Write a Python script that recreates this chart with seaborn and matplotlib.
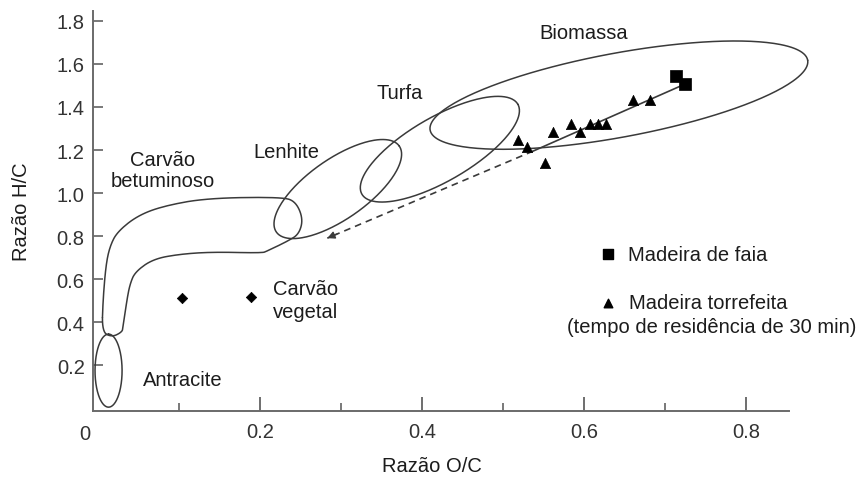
import numpy as np
import pandas as pd
import matplotlib
matplotlib.use("Agg")
import matplotlib.pyplot as plt
import seaborn as sns
from matplotlib.transforms import blended_transform_factory

# ---------------- data ----------------
beech_oc = [0.714, 0.725]
beech_hc = [1.544, 1.507]

torr_oc = [0.519, 0.530, 0.552, 0.562, 0.584, 0.595, 0.607, 0.617, 0.627, 0.660, 0.681]
torr_hc = [1.247, 1.215, 1.138, 1.285, 1.320, 1.282, 1.320, 1.320, 1.320, 1.434, 1.434]

charcoal_oc = [0.104, 0.189]
charcoal_hc = [0.512, 0.519]

trend_oc = [0.725, 0.537]
trend_hc = [1.507, 1.195]
trend_dash_oc = [0.537, 0.283]
trend_dash_hc = [1.195, 0.791]

# elliptic regions: centre (O/C, H/C), semi-axes (in O/C units), tilt (deg)
region_names = ["Antracite", "Lenhite", "Turfa", "Biomassa"]
region_cx = [0.013, 0.296, 0.422, 0.643]
region_cy = [0.176, 1.019, 1.204, 1.455]
region_a = [0.0451, 0.0926, 0.1111, 0.2370]
region_b = [0.0167, 0.0370, 0.0395, 0.0519]
region_ang = [90, 35, 30, 10.5]

# bituminous coal band outline
bit_oc = [0.0049, 0.0062, 0.0099, 0.0148, 0.0235, 0.0481, 0.0802, 0.1346, 0.2284,
          0.2444, 0.2531, 0.2481, 0.2346, 0.2086, 0.2025, 0.1420, 0.1012, 0.0679,
          0.0457, 0.0395, 0.0358, 0.0309, 0.0296, 0.0173]
bit_hc = [0.355, 0.508, 0.671, 0.754, 0.819, 0.894, 0.940, 0.977, 0.982,
          0.959, 0.880, 0.810, 0.778, 0.731, 0.722, 0.727, 0.717, 0.694,
          0.634, 0.578, 0.508, 0.378, 0.355, 0.332]

xticks_major = [0.2, 0.4, 0.6, 0.8]
xticks_minor = [0.1, 0.3, 0.5, 0.7]
yticks = [0.2, 0.4, 0.6, 0.8, 1.0, 1.2, 1.4, 1.6, 1.8]

# ---------------- style ----------------
sns.set_style("ticks")
plt.rcParams["font.family"] = ["Liberation Sans", "DejaVu Sans"]
TXT = "#1c1c1c"
LINE = "#3a3a3a"
FS = 14.5

W, H = 865, 481
fig = plt.figure(figsize=(W / 100, H / 100), dpi=100)
ax = fig.add_axes([93 / W, 1 - 411.7 / H, (789 - 93) / W, (411.7 - 11.7) / H])
ax.set_xlim(-0.0062, 0.853)
ax.set_ylim(-0.010, 1.847)

ASPECT = 810 / 215.4  # display px per O/C unit vs per H/C unit


def ellipse(cx, cy, a, b, ang):
    t = np.linspace(0, 2 * np.pi, 300)
    u, v = a * np.cos(t), b * np.sin(t)
    th = np.radians(ang)
    dx = u * np.cos(th) - v * np.sin(th)
    dy = u * np.sin(th) + v * np.cos(th)
    return cx + dx, cy + dy * ASPECT


def chaikin(x, y, n=3):
    pts = np.column_stack([x, y])
    for _ in range(n):
        nxt = np.roll(pts, -1, axis=0)
        q = 0.75 * pts + 0.25 * nxt
        r = 0.25 * pts + 0.75 * nxt
        pts = np.empty((2 * len(q), 2))
        pts[0::2] = q
        pts[1::2] = r
    pts = np.vstack([pts, pts[:1]])
    return pts[:, 0], pts[:, 1]


for cx, cy, a, b, ang in zip(region_cx, region_cy, region_a, region_b, region_ang):
    ex, ey = ellipse(cx, cy, a, b, ang)
    ax.plot(ex, ey, color=LINE, lw=1.1, zorder=2, clip_on=False)

bx, by = chaikin(bit_oc, bit_hc)
ax.plot(bx, by, color=LINE, lw=1.1, zorder=2, clip_on=False)

# trend line (solid part + dashed extrapolation with arrow)
sns.lineplot(x=trend_oc, y=trend_hc, sort=False, color=LINE, lw=1.2, ax=ax,
             estimator=None, zorder=3)
ax.plot(trend_dash_oc, trend_dash_hc, color=LINE, lw=1.2, ls=(0, (4, 3)), zorder=3)
ax.annotate("", xy=(trend_dash_oc[1], trend_dash_hc[1]),
            xytext=(trend_dash_oc[1] + 0.012, trend_dash_hc[1] + 0.012 * 1.62),
            arrowprops=dict(arrowstyle="-|>", color=LINE, lw=1.0, mutation_scale=11,
                            shrinkA=0, shrinkB=0), zorder=4)

# points
sns.scatterplot(x=torr_oc, y=torr_hc, marker="^", s=55, color="black",
                edgecolor="black", linewidth=0.5, ax=ax, zorder=5)
sns.scatterplot(x=beech_oc, y=beech_hc, marker="s", s=70, color="black",
                edgecolor="black", linewidth=0.5, ax=ax, zorder=5)
sns.scatterplot(x=charcoal_oc, y=charcoal_hc, marker="D", s=28, color="black",
                edgecolor="black", linewidth=0.5, ax=ax, zorder=5)

# region labels
ax.text(0.599, 1.748, "Biomassa", fontsize=FS, color=TXT, ha="center", va="center")
ax.text(0.373, 1.469, "Turfa", fontsize=FS, color=TXT, ha="center", va="center")
ax.text(0.233, 1.195, "Lenhite", fontsize=FS, color=TXT, ha="center", va="center")
ax.text(0.080, 1.106, "Carvão\nbetuminoso", fontsize=FS, color=TXT, ha="center",
        va="center", linespacing=1.15)
ax.text(0.2556, 0.503, "Carvão\nvegetal", fontsize=FS, color=TXT, ha="center",
        va="center", linespacing=1.25)
ax.text(0.104, 0.137, "Antracite", fontsize=FS, color=TXT, ha="center", va="center")

# legend (manual, as in the reference)
ax.scatter([0.630], [0.717], marker="s", s=45, color="black", clip_on=False, zorder=5)
ax.text(0.654, 0.717, "Madeira de faia", fontsize=FS, color=TXT, ha="left", va="center")
ax.scatter([0.629], [0.49], marker="^", s=38, color="black", clip_on=False, zorder=5)
ax.text(0.655, 0.49, "Madeira torrefeita", fontsize=FS, color=TXT, ha="left", va="center")
ax.text(0.757, 0.383, "(tempo de residência de 30 min)", fontsize=FS, color=TXT,
        ha="center", va="center", clip_on=False)

# axes styling
sns.despine(ax=ax)
for sp in ("left", "bottom"):
    ax.spines[sp].set_color("#6a6a6a")
    ax.spines[sp].set_linewidth(1.4)

ax.set_xticks(xticks_major)
ax.set_xticklabels([f"{v:.1f}" for v in xticks_major])
ax.set_xticks(xticks_minor, minor=True)
ax.set_yticks(yticks)
ax.set_yticklabels([f"{v:.1f}" for v in yticks])
ax.tick_params(axis="x", which="major", direction="in", length=10, width=1.2,
               color="#555555", labelsize=FS, labelcolor="#333333", pad=8)
ax.tick_params(axis="x", which="minor", direction="in", length=6, width=1.1,
               color="#555555")
ax.tick_params(axis="y", which="major", direction="in", length=7, width=1.1,
               color="#555555", labelsize=FS, labelcolor="#333333", pad=6)

trans = blended_transform_factory(ax.transData, ax.transAxes)
ax.text(-0.016, -0.058, "0", transform=trans, fontsize=FS, color="#333333",
        ha="center", va="center", clip_on=False)

ax.set_xlabel("")
ax.set_ylabel("")
fig.text(432 / W, 1 - 467 / H, "Razão O/C", fontsize=FS, color=TXT, ha="center", va="center")
fig.text(22 / W, 1 - 212 / H, "Razão H/C", fontsize=FS, color=TXT, ha="center",
         va="center", rotation=90)

fig.savefig("out.png", dpi=100)
